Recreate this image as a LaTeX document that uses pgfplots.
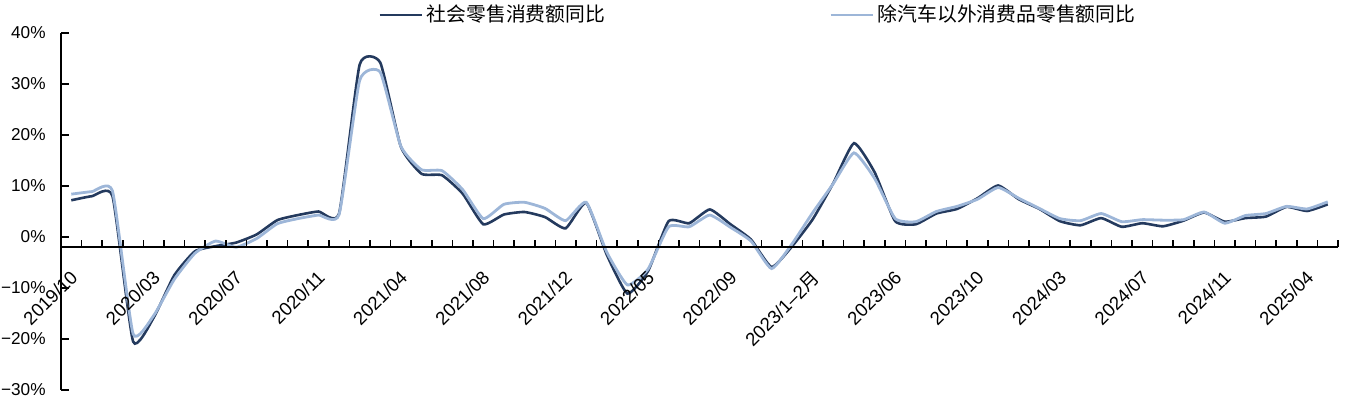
\documentclass[border=0pt]{standalone}
\usepackage{fontspec}
\setmainfont{Liberation Sans}
\newfontfamily\cjk{Noto Sans CJK SC}
\usepackage{pgfplots}
\pgfplotsset{compat=1.18}
\definecolor{darkline}{RGB}{36,58,94}
\definecolor{lightline}{RGB}{157,182,216}
\begin{document}
\begin{tikzpicture}
\begin{axis}[
  scale only axis, width=638.5pt, height=178.5pt,
  xmin=-0.5, xmax=61.5, ymin=-30, ymax=40,
  axis x line=none, axis y line*=left,
  y axis line style={line width=1pt, -},
  ytick={-30,-20,...,40},
  yticklabels={−30\%,−20\%,−10\%,0\%,10\%,20\%,30\%,40\%},
  tick align=inside, major tick length=4pt,
  ytick style={line width=0.8pt, black},
  yticklabel style={font=\fontsize{8.6}{10}\selectfont, anchor=east, inner sep=0pt, xshift=-7.5pt},
  clip=false,
  legend style={at={(0.2482,1.0504)}, anchor=west, draw=none, fill=none, inner sep=0pt,
    font=\cjk\fontsize{9.9}{12}\selectfont, legend columns=2,
    /tikz/every even column/.append style={column sep=110pt}},
  legend image code/.code={\draw[#1] (0pt,0pt) -- (21pt,0pt);},
]
\addplot[darkline, line width=1.3pt, smooth, tension=0.3] table {
0 7.2
1 8.0
2 8.0
3 -20.5
4 -15.8
5 -7.5
6 -2.8
7 -1.8
8 -1.1
9 0.5
10 3.3
11 4.3
12 5.0
13 4.6
14 33.8
15 34.2
16 17.7
17 12.4
18 12.1
19 8.5
20 2.5
21 4.4
22 4.9
23 3.9
24 1.7
25 6.7
26 -3.5
27 -11.1
28 -6.7
29 3.1
30 2.7
31 5.4
32 2.5
33 -0.5
34 -5.9
35 -1.8
36 3.5
37 10.6
38 18.4
39 12.7
40 3.1
41 2.5
42 4.6
43 5.5
44 7.6
45 10.1
46 7.4
47 5.5
48 3.1
49 2.3
50 3.7
51 2.0
52 2.7
53 2.1
54 3.2
55 4.8
56 3.0
57 3.7
58 4.0
59 5.9
60 5.1
61 6.4
};
\addlegendentry{社会零售消费额同比}
\addplot[lightline, line width=1.4pt, smooth, tension=0.3] table {
0 8.4
1 8.9
2 9.0
3 -19.0
4 -15.4
5 -8.3
6 -3.2
7 -0.8
8 -2.0
9 -0.3
10 2.6
11 3.6
12 4.3
13 4.4
14 30.7
15 32.3
16 17.8
17 13.2
18 13.0
19 9.3
20 3.6
21 6.4
22 6.8
23 5.6
24 3.2
25 6.8
26 -3.0
27 -9.4
28 -6.3
29 2.0
30 2.0
31 4.3
32 1.9
33 -0.8
34 -6.2
35 -1.3
36 4.8
37 10.5
38 16.5
39 11.5
40 3.6
41 3.0
42 5.0
43 6.0
44 7.4
45 9.7
46 7.6
47 5.6
48 3.6
49 3.2
50 4.6
51 3.0
52 3.4
53 3.3
54 3.4
55 4.9
56 2.7
57 4.2
58 4.6
59 6.0
60 5.5
61 6.9
};
\addlegendentry{除汽车以外消费品零售额同比}
\draw[line width=1pt] (axis cs:-0.5,-2) -- (axis cs:61.5,-2);
\pgfplotsinvokeforeach{0.5,1.5,...,61.5}{\draw[line width=0.8pt] (axis cs:#1,-2) -- (axis cs:#1,-0.63);}
\tikzset{xl/.style={rotate=45, anchor=north east, inner sep=0pt, font=\fontsize{9.3}{10}\selectfont}}
\node[xl] at (axis cs:-0.1,-6.2) {2019/10};
\node[xl] at (axis cs:3.9,-6.2) {2020/03};
\node[xl] at (axis cs:7.9,-6.2) {2020/07};
\node[xl] at (axis cs:11.9,-6.2) {2020/11};
\node[xl] at (axis cs:15.9,-6.2) {2021/04};
\node[xl] at (axis cs:19.9,-6.2) {2021/08};
\node[xl] at (axis cs:23.9,-6.2) {2021/12};
\node[xl] at (axis cs:27.9,-6.2) {2022/05};
\node[xl] at (axis cs:31.9,-6.2) {2022/09};
\node[xl] at (axis cs:35.9,-6.2) {2023/1–2{\cjk 月}};
\node[xl] at (axis cs:39.9,-6.2) {2023/06};
\node[xl] at (axis cs:43.9,-6.2) {2023/10};
\node[xl] at (axis cs:47.9,-6.2) {2024/03};
\node[xl] at (axis cs:51.9,-6.2) {2024/07};
\node[xl] at (axis cs:55.9,-6.2) {2024/11};
\node[xl] at (axis cs:59.9,-6.2) {2025/04};
\coordinate (bbl) at (rel axis cs:-0.04777,-0.03361);
\coordinate (btr) at (rel axis cs:1.00626,1.09244);
\end{axis}
\pgfresetboundingbox
\path (bbl) rectangle (btr);
\end{tikzpicture}
\end{document}
